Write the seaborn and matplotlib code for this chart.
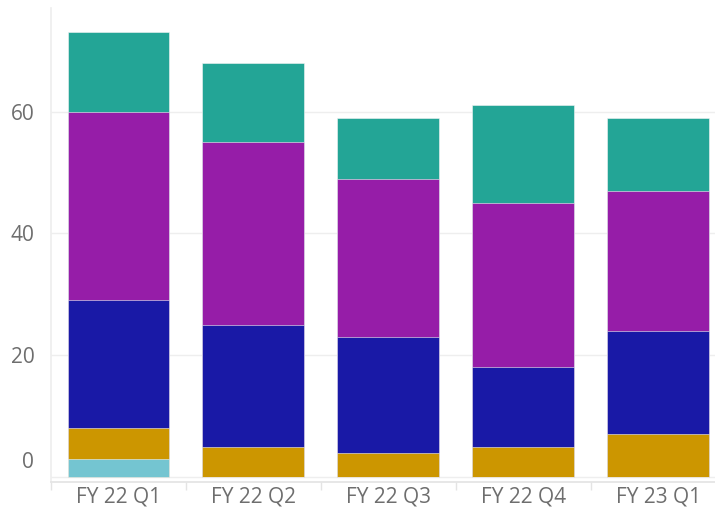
import numpy as np
import pandas as pd
import matplotlib
matplotlib.use("Agg")
import matplotlib.pyplot as plt
import matplotlib.transforms as mtrans
import seaborn as sns

# data (stack order bottom -> top)
quarters = ["FY 22 Q1", "FY 22 Q2", "FY 22 Q3", "FY 22 Q4", "FY 23 Q1"]
light_blue = [3, 0, 0, 0, 0]
gold = [5, 5, 4, 5, 7]
blue = [21, 20, 19, 13, 17]
purple = [31, 30, 26, 27, 23]
teal = [13, 13, 10, 16, 12]

series = [light_blue, gold, blue, purple, teal]
colors = ["#74C5D1", "#CC9600", "#1919A6", "#961DA8", "#23A596"]

sns.set_theme(style="white")
plt.rcParams["font.family"] = ["Open Sans", "DejaVu Sans"]

fig = plt.figure(figsize=(7.15, 5.12), dpi=100)
ax = fig.add_axes([51 / 715, 30 / 512, 1 - 51 / 715, 474 / 512])

# stacked bars: draw cumulative totals from the top down so seaborn overlays them
cum = np.cumsum(np.array(series), axis=0)
for i in range(len(series) - 1, -1, -1):
    df = pd.DataFrame({"quarter": quarters, "value": cum[i]})
    sns.barplot(data=df, x="quarter", y="value", color=colors[i], width=0.755,
                edgecolor="#F4F4F4", linewidth=0.4, saturation=1, ax=ax, zorder=3)

ax.set_xlim(-0.5, 4.42)
ax.set_ylim(-0.8, 77)
ax.set_yticks([0, 20, 40, 60])
ax.set_xlabel("")
ax.set_ylabel("")
ax.grid(axis="y", color="#EEEEEE", linewidth=1, zorder=0)
ax.grid(axis="x", visible=False)

for s in ["top", "right"]:
    ax.spines[s].set_visible(False)
ax.spines["left"].set_color("#EEEEEE")
ax.spines["bottom"].set_color("#E4E4E4")

ax.tick_params(axis="y", length=0, pad=12, labelsize=15, labelcolor="#6E6E6E")
ax.tick_params(axis="x", length=0, pad=3, labelsize=15, labelcolor="#6E6E6E")

# boundary ticks between the categories
ax.set_xticks([-0.5, 0.5, 1.5, 2.5, 3.5], minor=True)
ax.tick_params(axis="x", which="minor", length=6, color="#E4E4E4", bottom=True)

# the 0 label sits a little above the baseline in the reference
lab0 = ax.get_yticklabels()[0]
lab0.set_transform(lab0.get_transform() + mtrans.ScaledTranslation(0, 17 / 100, fig.dpi_scale_trans))

fig.savefig("out.png", dpi=100)
